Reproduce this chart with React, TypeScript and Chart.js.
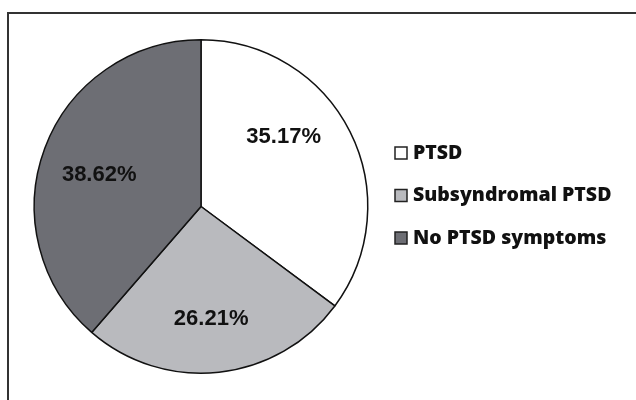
import React, { useEffect, useRef } from "react";
import { Chart, registerables } from "chart.js";

Chart.register(...registerables);

const categories = ["PTSD", "Subsyndromal PTSD", "No PTSD symptoms"];
const percentValues = [35.17, 26.21, 38.62];
const percentLabels = ["35.17%", "26.21%", "38.62%"];
const sliceColors = ["#ffffff", "#b9babe", "#6d6e74"];

const labelPlugin = {
  id: "sliceLabels",
  afterDatasetsDraw(chart: any, _args: any, opts: any) {
    const ctx = chart.ctx;
    const meta = chart.getDatasetMeta(0);
    ctx.save();
    ctx.font = "bold 22px 'Liberation Sans', Arial, sans-serif";
    ctx.fillStyle = "#111";
    ctx.textAlign = "center";
    ctx.textBaseline = "middle";
    meta.data.forEach((arc: any, i: number) => {
      const p = arc.getProps(["x", "y", "startAngle", "endAngle", "outerRadius"], true);
      const shift = ((opts.angleShift?.[i] ?? 0) * Math.PI) / 180;
      const mid = (p.startAngle + p.endAngle) / 2 + shift;
      const r = p.outerRadius * (opts.radiusFactor?.[i] ?? 0.65);
      ctx.fillText(percentLabels[i], p.x + Math.cos(mid) * r, p.y + Math.sin(mid) * r + 1);
    });
    ctx.restore();
  },
};

const legendPlugin = {
  id: "sideLegend",
  afterDraw(chart: any, _args: any, opts: any) {
    const ctx = chart.ctx;
    ctx.save();
    ctx.font = "800 19.5px 'Open Sans', sans-serif";
    ctx.textBaseline = "middle";
    ctx.textAlign = "left";
    categories.forEach((name, i) => {
      const cy = opts.top + i * opts.gap;
      ctx.fillStyle = sliceColors[i];
      ctx.fillRect(opts.x, cy - 6, 12, 12);
      ctx.strokeStyle = "#222";
      ctx.lineWidth = 1.5;
      ctx.strokeRect(opts.x, cy - 6, 12, 12);
      ctx.fillStyle = "#111";
      ctx.fillText(name, opts.x + 18, cy);
    });
    ctx.restore();
  },
};

export default function App() {
  const ref = useRef<HTMLCanvasElement | null>(null);
  useEffect(() => {
    if (!ref.current) return;
    const chart = new Chart(ref.current, {
      type: "pie",
      data: {
        labels: categories,
        datasets: [
          {
            data: percentValues,
            backgroundColor: sliceColors,
            borderColor: "#111",
            borderWidth: 1.5,
          },
        ],
      },
      options: {
        responsive: false,
        animation: false,
        layout: { padding: { left: 33, right: 267, top: 39, bottom: 26 } },
        plugins: {
          legend: { display: false },
          tooltip: { enabled: false },
          sliceLabels: { angleShift: [-13.6, 1, -3], radiusFactor: [0.65, 0.67, 0.64] },
          sideLegend: { x: 395, top: 153, gap: 42.5 },
        } as any,
      },
      plugins: [labelPlugin, legendPlugin],
    });
    return () => chart.destroy();
  }, []);

  return (
    <div style={{ position: "fixed", left: 0, top: 0, width: 636, height: 400, overflow: "hidden", background: "#fff" }}>
      <div
        style={{
          position: "absolute",
          left: 7,
          top: 12,
          width: 700,
          height: 500,
          border: "2px solid #333",
          boxSizing: "border-box",
        }}
      />
      <canvas ref={ref} width={636} height={400} style={{ position: "absolute", left: 0, top: 0 }} />
    </div>
  );
}
